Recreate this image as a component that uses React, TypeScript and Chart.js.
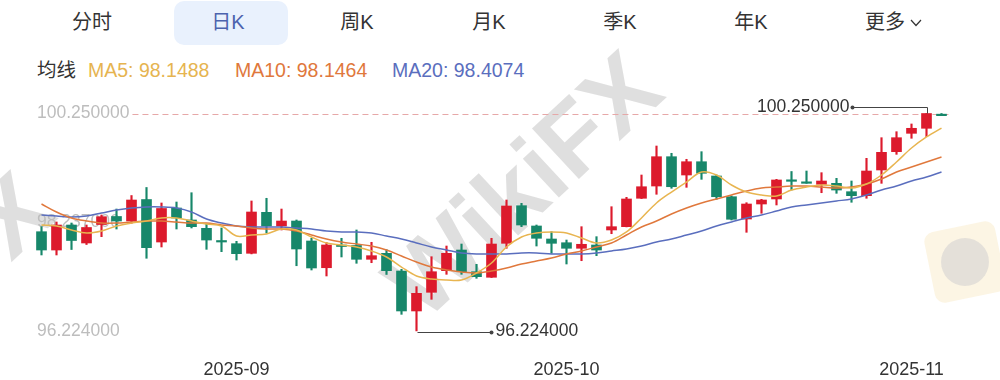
import React, { useEffect, useRef } from 'react';
import { Chart, registerables } from 'chart.js';

Chart.register(...registerables);

// ---------- data ----------
const dates = [
  '2025-08-13', '2025-08-14', '2025-08-15', '2025-08-18', '2025-08-19', '2025-08-20', '2025-08-21', '2025-08-22',
  '2025-08-25', '2025-08-26', '2025-08-27', '2025-08-28', '2025-08-29',
  '2025-09-01', '2025-09-02', '2025-09-03', '2025-09-04', '2025-09-05', '2025-09-08', '2025-09-09', '2025-09-10',
  '2025-09-11', '2025-09-12', '2025-09-15', '2025-09-16', '2025-09-17', '2025-09-18', '2025-09-19', '2025-09-22',
  '2025-09-23', '2025-09-24', '2025-09-25', '2025-09-26', '2025-09-29', '2025-09-30',
  '2025-10-01', '2025-10-02', '2025-10-03', '2025-10-06', '2025-10-07', '2025-10-08', '2025-10-09', '2025-10-10',
  '2025-10-13', '2025-10-14', '2025-10-15', '2025-10-16', '2025-10-17', '2025-10-20', '2025-10-21', '2025-10-22',
  '2025-10-23', '2025-10-24', '2025-10-27', '2025-10-28', '2025-10-29', '2025-10-30', '2025-10-31',
  '2025-11-03', '2025-11-04', '2025-11-05',
];

const opens = [
  98.061, 97.722, 98.185, 97.852, 98.194, 98.343, 98.259, 98.657, 97.870, 98.500,
  98.278, 98.124, 97.883, 97.839, 97.661, 98.420, 98.167, 98.259, 97.889, 97.394,
  97.806, 97.806, 97.550, 97.661, 97.333, 96.593, 96.939, 97.339, 97.722, 97.320,
  97.217, 97.846, 98.543, 98.167, 97.926, 97.857, 97.754, 97.815, 98.093, 98.154,
  98.680, 98.907, 99.450, 99.111, 99.357, 99.093, 98.709, 98.296, 98.574, 98.667,
  99.006, 98.976, 98.939, 98.957, 98.802, 98.728, 99.204, 99.543, 99.883, 99.976,
  100.215,
];
const highs = [
  98.154, 98.241, 98.222, 98.185, 98.370, 98.481, 98.731, 98.880, 98.593, 98.611,
  98.783, 98.204, 98.130, 97.883, 98.630, 98.680, 98.481, 98.278, 97.939, 97.861,
  97.939, 98.093, 97.865, 97.728, 97.365, 97.043, 97.598, 97.796, 97.833, 97.457,
  97.939, 98.648, 98.587, 98.185, 98.061, 97.907, 98.154, 97.969, 98.524, 98.698,
  99.111, 99.648, 99.513, 99.402, 99.543, 99.111, 98.722, 98.598, 98.661, 99.031,
  99.176, 99.185, 99.154, 99.050, 99.000, 99.420, 99.802, 99.913, 100.056, 100.250,
  100.250,
];
const lows = [
  97.630, 97.630, 97.731, 97.824, 97.969, 98.111, 98.217, 97.569, 97.778, 98.111,
  98.130, 97.735, 97.691, 97.537, 97.650, 98.037, 98.093, 97.431, 97.352, 97.241,
  97.593, 97.476, 97.487, 97.269, 96.531, 96.224, 96.809, 97.272, 97.272, 97.198,
  97.213, 97.754, 98.154, 97.796, 97.661, 97.463, 97.524, 97.617, 98.024, 98.150,
  98.675, 98.754, 98.865, 98.883, 99.031, 98.661, 98.278, 98.050, 98.402, 98.556,
  98.833, 98.957, 98.783, 98.772, 98.606, 98.680, 98.957, 99.494, 99.791, 99.820,
  100.210,
];
const closes = [
  97.722, 98.185, 97.898, 98.139, 98.339, 98.259, 98.648, 97.765, 98.491, 98.315,
  98.154, 97.907, 97.870, 97.654, 98.426, 98.167, 98.259, 97.741, 97.389, 97.815,
  97.787, 97.550, 97.617, 97.339, 96.593, 96.920, 97.320, 97.661, 97.320, 97.228,
  97.833, 98.537, 98.185, 97.939, 97.846, 97.754, 97.828, 97.722, 98.154, 98.667,
  98.894, 99.450, 98.894, 99.357, 99.143, 98.709, 98.291, 98.574, 98.648, 99.019,
  98.994, 98.957, 99.000, 98.833, 98.728, 99.185, 99.531, 99.802, 99.976, 100.250,
  100.210,
];

const ma5 = [
  98.185, 98.167, 98.093, 98.037, 98.074, 98.167, 98.222, 98.259, 98.315, 98.315,
  98.259, 98.204, 98.167, 97.981, 98.000, 98.019, 98.111, 98.093, 97.963, 97.852,
  97.815, 97.778, 97.704, 97.593, 97.407, 97.241, 97.185, 97.167, 97.167, 97.296,
  97.481, 97.778, 97.963, 98.037, 98.056, 98.037, 97.944, 97.852, 97.907, 98.056,
  98.315, 98.593, 98.796, 98.981, 99.167, 99.111, 98.926, 98.796, 98.741, 98.722,
  98.833, 98.889, 98.926, 98.907, 98.870, 98.944, 99.111, 99.352, 99.611, 99.815,
  99.981,
];
const ma10 = [
  98.574, 98.426, 98.315, 98.259, 98.222, 98.222, 98.241, 98.259, 98.259, 98.241,
  98.222, 98.222, 98.185, 98.167, 98.130, 98.111, 98.111, 98.074, 98.000, 97.926,
  97.870, 97.833, 97.796, 97.722, 97.611, 97.500, 97.407, 97.352, 97.315, 97.296,
  97.333, 97.389, 97.463, 97.519, 97.574, 97.648, 97.704, 97.778, 97.852, 98.000,
  98.148, 98.259, 98.389, 98.500, 98.593, 98.667, 98.741, 98.815, 98.870, 98.889,
  98.907, 98.907, 98.889, 98.870, 98.889, 98.944, 99.037, 99.167, 99.259, 99.352,
  99.444,
];
const ma20 = [
  98.370, 98.352, 98.333, 98.352, 98.407, 98.463, 98.500, 98.519, 98.519, 98.500,
  98.426, 98.296, 98.222, 98.167, 98.148, 98.148, 98.148, 98.130, 98.111, 98.074,
  98.056, 98.056, 98.037, 97.981, 97.926, 97.852, 97.778, 97.722, 97.667, 97.648,
  97.648, 97.648, 97.667, 97.667, 97.648, 97.648, 97.648, 97.667, 97.704, 97.741,
  97.796, 97.870, 97.926, 98.000, 98.074, 98.167, 98.241, 98.315, 98.370, 98.444,
  98.519, 98.556, 98.593, 98.630, 98.667, 98.741, 98.833, 98.907, 99.000, 99.074,
  99.167,
];

const yTicks = [96.224, 98.237, 100.25];
const priceLine = 100.25;

const tabs = ['分时', '日K', '周K', '月K', '季K', '年K', '更多'];
const tabCenters = [92, 228, 357, 489, 620, 751, 885];
const maLegend = [
  { text: 'MA5: 98.1488', color: '#E6B450', left: 88 },
  { text: 'MA10: 98.1464', color: '#E0783C', left: 235 },
  { text: 'MA20: 98.4074', color: '#5A6EBE', left: 392 },
];

// ---------- styling ----------
const UP = '#DC1A2C';
const DOWN = '#17876A';
const LATIN = '"Liberation Sans", Arial, "Noto Sans CJK SC", sans-serif';
const candleColor = (i: number) => (closes[i] >= opens[i] ? UP : DOWN);
const fmt = (v: number) => Number(v).toFixed(6);

const monthLabel = (i: number) => {
  if (i === 0) return null;
  const m = dates[i].slice(0, 7);
  return m !== dates[i - 1].slice(0, 7) ? m : null;
};

const decorPlugin = {
  id: 'decor',
  beforeDatasetsDraw(chart: any) {
    const { ctx, chartArea, scales } = chart;
    const y = scales.y;
    ctx.save();
    // light badge at right
    ctx.save();
    ctx.translate(965, 172);
    ctx.rotate(-0.2);
    ctx.fillStyle = 'rgba(250,236,205,0.55)';
    ctx.beginPath();
    (ctx as any).roundRect(-36, -36, 72, 72, 10);
    ctx.fill();
    ctx.fillStyle = 'rgba(200,200,205,0.45)';
    ctx.beginPath();
    ctx.arc(0, 0, 24, 0, Math.PI * 2);
    ctx.fill();
    ctx.restore();
    // dashed current price line
    const py = Math.round(y.getPixelForValue(priceLine)) + 0.5;
    ctx.font = `17.5px ${LATIN}`;
    const w = ctx.measureText(fmt(yTicks[2])).width;
    ctx.strokeStyle = '#E6A8A8';
    ctx.lineWidth = 1;
    ctx.setLineDash([6, 4]);
    ctx.beginPath();
    ctx.moveTo(chartArea.left + 3 + w + 3, py);
    ctx.lineTo(chartArea.right + 3, py);
    ctx.stroke();
    ctx.restore();
  },
  afterDatasetsDraw(chart: any) {
    const { ctx, scales } = chart;
    const x = scales.x;
    const y = scales.y;
    const maxIdx = highs.indexOf(Math.max(...highs));
    const minIdx = lows.indexOf(Math.min(...lows));
    ctx.save();
    ctx.strokeStyle = '#444';
    ctx.fillStyle = '#444';
    ctx.lineWidth = 1;
    ctx.font = `17.5px ${LATIN}`;
    ctx.textBaseline = 'middle';
    // max marker
    const xh = Math.round(x.getPixelForValue(maxIdx)) + 0.5;
    const yh = y.getPixelForValue(highs[maxIdx]);
    const ly = Math.round(yh - 6.5) + 0.5;
    ctx.beginPath();
    ctx.moveTo(xh, yh);
    ctx.lineTo(xh, ly);
    ctx.lineTo(xh - 75, ly);
    ctx.stroke();
    ctx.beginPath();
    ctx.arc(xh - 75, ly, 2, 0, Math.PI * 2);
    ctx.fill();
    ctx.fillStyle = '#333';
    ctx.textAlign = 'right';
    ctx.fillText(fmt(highs[maxIdx]), xh - 78, ly);
    // min marker
    const xl = Math.round(x.getPixelForValue(minIdx)) + 0.5;
    const yl = y.getPixelForValue(lows[minIdx]);
    const my = Math.round(yl + 1.5) + 0.5;
    ctx.fillStyle = '#444';
    ctx.beginPath();
    ctx.moveTo(xl, my);
    ctx.lineTo(xl + 74, my);
    ctx.stroke();
    ctx.beginPath();
    ctx.arc(xl + 74, my, 2, 0, Math.PI * 2);
    ctx.fill();
    ctx.fillStyle = '#333';
    ctx.textAlign = 'left';
    ctx.fillText(fmt(lows[minIdx]), xl + 78, my - 1);
    ctx.restore();
  },
};

const watermarkStyle = (cx: number, cy: number): React.CSSProperties => ({
  position: 'absolute',
  left: cx,
  top: cy,
  transform: 'translate(-50%, -50%) rotate(-43deg)',
  fontFamily: '"Liberation Sans", Arial, sans-serif',
  fontWeight: 'bold',
  fontSize: 100,
  lineHeight: '100px',
  color: 'rgba(150,150,150,0.30)',
  whiteSpace: 'nowrap',
  pointerEvents: 'none',
});

export default function App() {
  const ref = useRef<HTMLCanvasElement>(null);

  useEffect(() => {
    document.body.style.margin = '0';
    const colors = closes.map((_, i) => candleColor(i));
    const lineDs = (label: string, data: number[], color: string) => ({
      type: 'line' as const,
      label,
      data,
      borderColor: color,
      borderWidth: 1.5,
      pointRadius: 0,
      tension: 0.35,
      fill: false,
      order: 0,
    });
    const chart = new Chart(ref.current as HTMLCanvasElement, {
      type: 'bar',
      data: {
        labels: dates,
        datasets: [
          lineDs('MA5', ma5, '#E8B550'),
          lineDs('MA10', ma10, '#E0783C'),
          lineDs('MA20', ma20, '#5A6EBE'),
          {
            type: 'bar',
            label: 'body',
            data: opens.map((o, i) => [o, closes[i]]),
            backgroundColor: colors,
            barThickness: 10,
            minBarLength: 1.5,
            grouped: false,
            order: 1,
          } as any,
          {
            type: 'bar',
            label: 'wick',
            data: lows.map((l, i) => [l, highs[i]]),
            backgroundColor: colors,
            barThickness: 1.5,
            grouped: false,
            order: 2,
          } as any,
        ],
      },
      options: {
        responsive: false,
        animation: false,
        layout: { padding: { left: 34, right: 51, top: 10, bottom: 0 } },
        plugins: { legend: { display: false }, tooltip: { enabled: false } },
        scales: {
          x: {
            offset: true,
            grid: { display: false },
            border: { display: false },
            ticks: {
              autoSkip: false,
              maxRotation: 0,
              padding: 8,
              color: '#333',
              font: { size: 18, family: LATIN },
              callback: (_v: any, i: number) => monthLabel(i),
            },
            afterFit: (s: any) => {
              s.height = 37;
              s.paddingLeft = 0;
              s.paddingRight = 0;
            },
          },
          y: {
            position: 'left',
            min: 96.0,
            max: 100.5,
            grid: { display: false },
            border: { display: false },
            afterBuildTicks: (s: any) => {
              s.ticks = yTicks.map((v) => ({ value: v }));
            },
            afterFit: (s: any) => {
              s.width = 0;
              s.paddingTop = 0;
              s.paddingBottom = 0;
            },
            ticks: {
              mirror: true,
              padding: 3,
              color: '#BDBDBD',
              font: { size: 17.5, family: LATIN },
              callback: (v: any) => fmt(v),
            },
          },
        },
      },
      plugins: [decorPlugin],
    });
    return () => chart.destroy();
  }, []);

  return (
    <div
      style={{
        position: 'relative',
        width: 1000,
        height: 380,
        background: '#fff',
        overflow: 'hidden',
        fontFamily: LATIN,
      }}
    >
      <div style={watermarkStyle(522, 184)}>WikiFX</div>
      <div style={watermarkStyle(-86, 305)}>WikiFX</div>
      <div
        style={{
          position: 'absolute',
          left: 174,
          top: 1,
          width: 114,
          height: 44,
          background: '#E9F1FD',
          borderRadius: 10,
        }}
      />
      {tabs.map((t, i) => (
        <div
          key={t}
          style={{
            position: 'absolute',
            left: tabCenters[i] - 60,
            top: 9,
            width: 120,
            textAlign: 'center',
            fontSize: 20,
            lineHeight: '26px',
            color: i === 1 ? '#4C63AE' : '#333',
            whiteSpace: 'nowrap',
          }}
        >
          {t}
        </div>
      ))}
      <svg
        style={{ position: 'absolute', left: 910, top: 19 }}
        width={12}
        height={8}
        viewBox="0 0 12 8"
      >
        <polyline points="1,1 6,6.5 11,1" fill="none" stroke="#333" strokeWidth={1.2} />
      </svg>
      <div
        style={{
          position: 'absolute',
          left: 37,
          top: 57,
          fontSize: 19.5,
          lineHeight: '26px',
          color: '#333',
          whiteSpace: 'nowrap',
        }}
      >
        均线
      </div>
      {maLegend.map((m) => (
        <div
          key={m.text}
          style={{
            position: 'absolute',
            left: m.left,
            top: 57,
            fontSize: 19.5,
            lineHeight: '26px',
            color: m.color,
            whiteSpace: 'nowrap',
          }}
        >
          {m.text}
        </div>
      ))}
      <div style={{ position: 'absolute', left: 0, top: 90, width: 1000, height: 290 }}>
        <canvas ref={ref} width={1000} height={290} style={{ width: 1000, height: 290, display: 'block' }} />
      </div>
    </div>
  );
}
